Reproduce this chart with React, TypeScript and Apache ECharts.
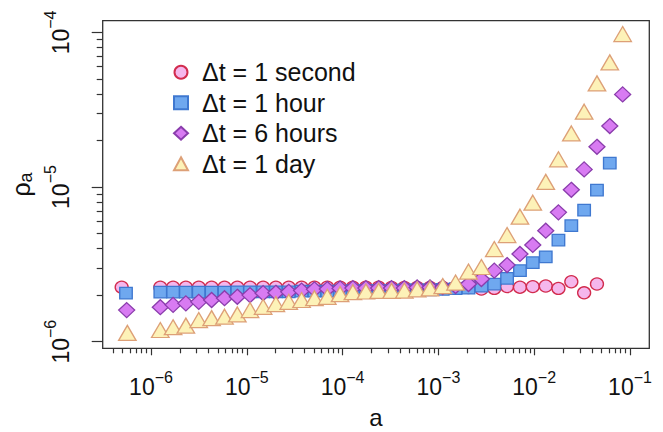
import React, { useEffect, useRef } from "react";
import * as echarts from "echarts";

// axis limits (R-style padded log ranges)
const X_MIN = 3.13e-7;
const X_MAX = 0.159;
const Y_MIN = 9.06e-7;
const Y_MAX = 1.19e-4;

const X_MAJOR = [1e-6, 1e-5, 1e-4, 1e-3, 1e-2, 1e-1];
const X_MINOR = [
  4e-7, 5e-7, 6e-7, 7e-7, 8e-7, 9e-7,
  2e-6, 3e-6, 4e-6, 5e-6, 6e-6, 7e-6, 8e-6, 9e-6,
  2e-5, 3e-5, 4e-5, 5e-5, 6e-5, 7e-5, 8e-5, 9e-5,
  2e-4, 3e-4, 4e-4, 5e-4, 6e-4, 7e-4, 8e-4, 9e-4,
  2e-3, 3e-3, 4e-3, 5e-3, 6e-3, 7e-3, 8e-3, 9e-3,
  2e-2, 3e-2, 4e-2, 5e-2, 6e-2, 7e-2, 8e-2, 9e-2,
];
const Y_MAJOR = [1e-6, 1e-5, 1e-4];
const Y_MINOR = [
  2e-6, 3e-6, 4e-6, 5e-6, 6e-6, 7e-6, 8e-6, 9e-6,
  2e-5, 3e-5, 4e-5, 5e-5, 6e-5, 7e-5, 8e-5, 9e-5,
];

const NAMES = ["Δt = 1 second", "Δt = 1 hour", "Δt = 6 hours", "Δt = 1 day"];

// x of log bins, shared by all series from the 4th bin on
const X_BINS = [
  1.25e-6, 1.70e-6, 2.31e-6, 3.15e-6, 4.29e-6, 5.85e-6, 7.96e-6, 1.08e-5,
  1.48e-5, 2.01e-5, 2.74e-5, 3.73e-5, 5.08e-5, 6.92e-5, 9.41e-5, 1.28e-4,
  1.75e-4, 2.38e-4, 3.24e-4, 4.41e-4, 6.00e-4, 8.17e-4, 1.11e-3, 1.51e-3,
  2.06e-3, 2.81e-3, 3.83e-3, 5.21e-3, 7.10e-3, 9.66e-3, 1.32e-2, 1.79e-2,
  2.44e-2, 3.32e-2, 4.52e-2, 6.15e-2, 8.38e-2,
];

// first (isolated) point of each series: [a, rho] (rho in units of 1e-6)
const FIRST_SECOND = [4.94e-7, 2.25];
const FIRST_HOUR = [5.48e-7, 2.06];
const FIRST_6H = [5.57e-7, 1.60];
const FIRST_DAY = [5.66e-7, 1.14];

// rho values (units of 1e-6) on X_BINS
const RHO_SECOND = [
  2.25, 2.25, 2.25, 2.25, 2.25, 2.25, 2.25, 2.25, 2.25, 2.25, 2.25, 2.25,
  2.25, 2.25, 2.25, 2.25, 2.25, 2.25, 2.24, 2.24, 2.24, 2.24, 2.24, 2.24,
  2.24, 2.19, 2.21, 2.27, 2.25, 2.27, 2.29, 2.21, 2.44, 2.07, 2.36,
];
const RHO_HOUR = [
  2.09, 2.09, 2.09, 2.09, 2.09, 2.09, 2.10, 2.10, 2.10, 2.10, 2.10, 2.12,
  2.12, 2.12, 2.12, 2.14, 2.14, 2.14, 2.14, 2.16, 2.16, 2.16, 2.18, 2.20,
  2.22, 2.29, 2.36, 2.57, 2.88, 3.24, 3.54, 4.54, 5.62, 7.10, 9.56, 14.3,
];
const RHO_6H = [
  1.67, 1.73, 1.77, 1.81, 1.86, 1.91, 1.95, 2.00, 2.06, 2.07, 2.10, 2.14,
  2.18, 2.19, 2.21, 2.22, 2.22, 2.22, 2.22, 2.22, 2.24, 2.24, 2.25, 2.29,
  2.36, 2.54, 2.88, 3.13, 3.69, 4.22, 5.22, 6.86, 9.6, 13.0, 18.2, 24.8, 39.7,
];
const RHO_DAY = [
  1.19, 1.24, 1.27, 1.38, 1.42, 1.45, 1.50, 1.60, 1.68, 1.75, 1.81, 1.86,
  1.91, 1.95, 2.03, 2.09, 2.11, 2.13, 2.13, 2.14, 2.18, 2.21, 2.29, 2.41,
  2.84, 3.04, 3.97, 4.89, 6.43, 7.92, 10.8, 15.1, 22.2, 30.7, 46.8, 64.0, 97.5,
];
const RHO_UNIT = 1e-6;

const FONT = "'Liberation Sans', Arial, Helvetica, sans-serif";
const AXIS_COLOR = "#333";

function build(first: number[], vals: number[]) {
  const out: number[][] = [[first[0], first[1] * RHO_UNIT]];
  vals.forEach((v, k) => out.push([X_BINS[k], v * RHO_UNIT]));
  return out;
}

function powLabel(v: number) {
  const e = Math.round(Math.log10(v));
  return "{b|10}{s|" + (e < 0 ? "\u2212" : "") + Math.abs(e) + "}";
}

const labelRich = {
  b: { fontSize: 23, fontFamily: FONT, color: "#111", lineHeight: 24 },
  s: { fontSize: 16, fontFamily: FONT, color: "#111", lineHeight: 17, padding: [0, 0, 20, 0] },
};

export default function App() {
  const ref = useRef<HTMLDivElement>(null);
  useEffect(() => {
    if (!ref.current) return;
    const chart = echarts.init(ref.current, undefined, { renderer: "svg" });
    const mk = (
      name: string,
      data: number[][],
      symbol: string,
      size: number[],
      fill: string,
      stroke: string
    ) => ({
      name,
      type: "scatter",
      data,
      symbol,
      symbolSize: size,
      xAxisIndex: 0,
      yAxisIndex: 0,
      itemStyle: { color: fill, borderColor: stroke, borderWidth: 1.3, opacity: 1 },
      emphasis: { disabled: true },
    });
    chart.setOption({
      animation: false,
      backgroundColor: "#fff",
      textStyle: { fontFamily: FONT },
      grid: {
        left: 102.7,
        right: 13.7,
        top: 20.7,
        bottom: 83.7,
        containLabel: false,
        outerBoundsMode: "none",
        show: true,
        borderColor: AXIS_COLOR,
        borderWidth: 1.3,
        backgroundColor: "transparent",
      },
      legend: {
        orient: "vertical",
        left: 168,
        top: 52,
        itemWidth: 14,
        itemHeight: 13,
        itemGap: 0,
        selectedMode: false,
        data: NAMES,
        textStyle: {
          fontSize: 25,
          lineHeight: 30.5,
          color: "#111",
          fontFamily: FONT,
          padding: [0, 0, 0, 9],
        },
      },
      xAxis: [
        {
          type: "log",
          logBase: 10,
          min: X_MIN,
          max: X_MAX,
          gridIndex: 0,
          position: "bottom",
          axisLine: { show: false },
          splitLine: { show: false },
          axisTick: {
            show: true,
            length: 7,
            customValues: X_MAJOR,
            lineStyle: { color: AXIS_COLOR, width: 1.2 },
          },
          axisLabel: {
            show: true,
            customValues: X_MAJOR,
            margin: 27,
            formatter: (v: number) => powLabel(v),
            rich: labelRich,
          },
          name: "a",
          nameLocation: "middle",
          nameMoveOverlap: false,
          nameGap: 57,
          nameTextStyle: { fontSize: 24, lineHeight: 24, color: "#111", fontFamily: FONT },
        },
        {
          type: "log",
          logBase: 10,
          min: X_MIN,
          max: X_MAX,
          gridIndex: 0,
          position: "bottom",
          offset: 0,
          axisLine: { show: false },
          splitLine: { show: false },
          axisLabel: { show: false },
          axisTick: {
            show: true,
            length: 5,
            customValues: X_MINOR,
            lineStyle: { color: AXIS_COLOR, width: 1.2 },
          },
        },
      ],
      yAxis: [
        {
          type: "log",
          logBase: 10,
          min: Y_MIN,
          max: Y_MAX,
          gridIndex: 0,
          position: "left",
          axisLine: { show: false },
          splitLine: { show: false },
          axisTick: {
            show: true,
            length: 11,
            customValues: Y_MAJOR,
            lineStyle: { color: AXIS_COLOR, width: 1.2 },
          },
          axisLabel: {
            show: true,
            customValues: Y_MAJOR,
            rotate: 90,
            margin: 30,
            formatter: (v: number) => powLabel(v),
            rich: labelRich,
          },
          name: "{r|ρ}{s|a}",
          nameLocation: "middle",
          nameRotate: 90,
          nameGap: 68,
          nameTextStyle: {
            rich: {
              r: { fontSize: 25, fontFamily: FONT, color: "#111", lineHeight: 27 },
              s: { fontSize: 18, fontFamily: FONT, color: "#111", lineHeight: 19, padding: [10, 0, 0, 0] },
            },
          },
        },
        {
          type: "log",
          logBase: 10,
          min: Y_MIN,
          max: Y_MAX,
          gridIndex: 0,
          position: "left",
          offset: 0,
          axisLine: { show: false },
          splitLine: { show: false },
          axisLabel: { show: false },
          axisTick: {
            show: true,
            length: 6,
            customValues: Y_MINOR,
            lineStyle: { color: AXIS_COLOR, width: 1.2 },
          },
        },
      ],
      series: [
        mk(NAMES[0], build(FIRST_SECOND, RHO_SECOND), "circle", [13, 12], "#F5B7EC", "#D22C4E"),
        mk(NAMES[1], build(FIRST_HOUR, RHO_HOUR), "rect", [12.5, 11.5], "#6FA8EF", "#3F78D0"),
        mk(NAMES[2], build(FIRST_6H, RHO_6H), "diamond", [16, 15], "#D87BF2", "#8A3DAC"),
        mk(NAMES[3], build(FIRST_DAY, RHO_DAY), "triangle", [17.5, 15], "#FDF2B8", "#DDA077"),
      ],
    });
    return () => chart.dispose();
  }, []);
  return (
    <div
      ref={ref}
      style={{ position: "absolute", left: 0, top: 0, width: 663, height: 432, background: "#fff" }}
    />
  );
}
